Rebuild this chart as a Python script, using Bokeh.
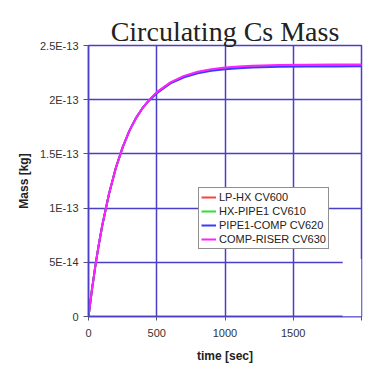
from bokeh.plotting import figure
from bokeh.models import (FixedTicker, Legend, LegendItem, BoxAnnotation, Title)
from bokeh.embed import file_html
from bokeh.resources import INLINE

# ---- data (mass in units of 1e-13 kg) ----
time_s = [0, 25, 50, 75, 100, 150, 200, 250, 300, 350, 400, 450, 500,
          600, 700, 800, 900, 1000, 1100, 1200, 1400, 1600, 1800, 2000]
lphx_cv600 = [0, 0.245, 0.465, 0.66, 0.835, 1.13, 1.37, 1.56, 1.715, 1.835, 1.93, 2.005, 2.065,
              2.155, 2.215, 2.25, 2.275, 2.29, 2.30, 2.307, 2.313, 2.316, 2.317, 2.318]
hxpipe1_cv610 = [0, 0.245, 0.465, 0.66, 0.835, 1.13, 1.37, 1.56, 1.715, 1.835, 1.93, 2.005, 2.065,
                 2.155, 2.215, 2.25, 2.273, 2.287, 2.297, 2.304, 2.31, 2.313, 2.314, 2.315]
pipe1comp_cv620 = [0, 0.245, 0.465, 0.66, 0.835, 1.13, 1.37, 1.56, 1.715, 1.835, 1.93, 2.0, 2.06,
                   2.15, 2.207, 2.243, 2.266, 2.28, 2.29, 2.297, 2.303, 2.306, 2.307, 2.308]
comprise_cv630 = [0, 0.245, 0.465, 0.66, 0.835, 1.13, 1.37, 1.56, 1.715, 1.835, 1.93, 2.005, 2.07,
                  2.16, 2.22, 2.258, 2.282, 2.297, 2.307, 2.314, 2.32, 2.323, 2.324, 2.325]
series_names = ["LP-HX CV600", "HX-PIPE1 CV610", "PIPE1-COMP CV620", "COMP-RISER CV630"]
series_colors = ["#ff4040", "#33dd33", "#3a3aff", "#ff22ff"]

x_ticks = [0, 500, 1000, 1500, 2000]
x_tick_labels = ["0", "500", "1000", "1500", ""]
y_ticks = [0, 0.5, 1.0, 1.5, 2.0, 2.5]
y_tick_labels = ["0", "5E-14", "1E-13", "1.5E-13", "2E-13", "2.5E-13"]

GRID = "#4a3fc8"

p = figure(width=367, height=365, output_backend="svg", toolbar_location=None,
           x_range=(0, 2000), y_range=(0, 2.5))
p.min_border_left = 88
p.min_border_right = 6
p.min_border_top = 45
p.min_border_bottom = 47
p.background_fill_color = "white"
p.border_fill_color = "white"
p.outline_line_color = GRID
p.outline_line_width = 1.5

p.title = Title(text="Circulating Cs Mass", align="center", offset=-3,
                text_font="Liberation Serif", text_font_size="28px",
                text_font_style="normal", text_color="#222222", standoff=-3)

series = [lphx_cv600, hxpipe1_cv610, pipe1comp_cv620, comprise_cv630]
renderers = []
for vals, col in zip(series, series_colors):
    r = p.line(time_s, vals, line_color=col, line_width=2)
    renderers.append(r)

# axes
for ax in (p.xaxis[0], p.yaxis[0]):
    ax.axis_line_color = GRID
    ax.axis_line_width = 1.5
    ax.major_tick_line_color = "#555577"
    ax.major_tick_line_width = 1
    ax.minor_tick_line_color = None
    ax.major_tick_in = 0
    ax.major_label_text_font = "Liberation Sans"
    ax.major_label_text_font_size = "11px"
    ax.major_label_text_color = "#333333"
    ax.axis_label_text_font = "Liberation Sans"
    ax.axis_label_text_font_size = "12px"
    ax.axis_label_text_font_style = "bold"
    ax.axis_label_text_color = "#222222"

p.xaxis.ticker = FixedTicker(ticks=x_ticks)
p.xaxis.major_label_overrides = {t: l for t, l in zip(x_ticks, x_tick_labels)}
p.xaxis.major_tick_out = 4
p.xaxis.major_label_standoff = 8
p.xaxis.axis_label = "time [sec]"
p.xaxis.axis_label_standoff = 9

p.yaxis.ticker = FixedTicker(ticks=y_ticks)
p.yaxis.major_label_overrides = {t: l for t, l in zip(y_ticks, y_tick_labels)}
p.yaxis.major_tick_out = 5
p.yaxis.major_label_standoff = 5
p.yaxis.axis_label = "Mass [kg]"
p.yaxis.axis_label_standoff = 6

p.xgrid.ticker = FixedTicker(ticks=x_ticks)
p.ygrid.ticker = FixedTicker(ticks=y_ticks)
for g in (p.xgrid[0], p.ygrid[0]):
    g.grid_line_color = GRID
    g.grid_line_width = 1.5

# white patch covering bottom-right corner as in the screenshot
p.add_layout(BoxAnnotation(left=1862, top=0.53, fill_color="white", fill_alpha=1.0,
                           line_color=None, level="overlay"))

legend = Legend(items=[LegendItem(label=n, renderers=[r]) for n, r in zip(series_names, renderers)],
                location=(110, 67), label_text_font="Liberation Sans",
                label_text_font_size="11px", label_text_color="#222222",
                label_height=14, glyph_height=14, glyph_width=15, label_standoff=3,
                spacing=0, padding=2, margin=0,
                border_line_color="#222222", border_line_width=1,
                background_fill_color="white", background_fill_alpha=1.0)
p.add_layout(legend)

open("out.html", "w").write(file_html(p, INLINE))
